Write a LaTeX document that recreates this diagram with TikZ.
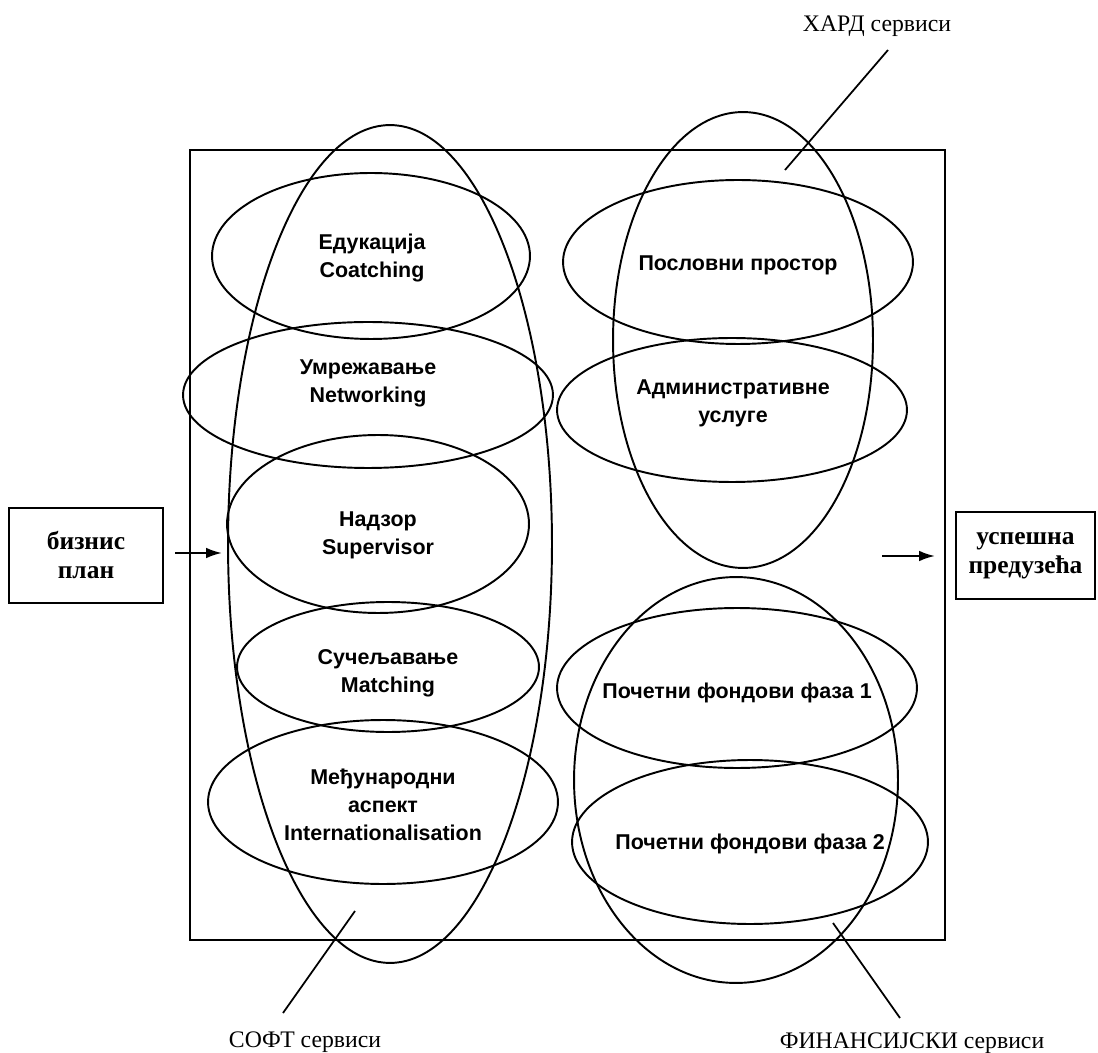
\documentclass[tikz,border=0pt]{standalone}
\usepackage{fontspec}
\setmainfont{Liberation Serif}
\newfontfamily\labelsans{Liberation Sans}
\usetikzlibrary{shapes.geometric,arrows.meta}
\begin{document}
\begin{tikzpicture}[x=0.02cm, y=-0.02cm,
  outline/.style={line width=1.1pt},
  oval/.style={ellipse, draw, outline, inner sep=0pt},
  item/.style={font=\labelsans\bfseries\fontsize{12.2}{16}\selectfont, align=center, inner sep=0pt},
  caption/.style={font=\fontsize{13.5}{16}\selectfont, anchor=base, inner sep=0pt},
  endbox/.style={draw, outline, align=center, font=\bfseries\fontsize{14.5}{16.5}\selectfont},
  pointer/.style={line width=1pt},
  flow/.style={line width=1.2pt, -{Latex[length=9pt,width=6pt]}}]
\useasboundingbox (0,0) rectangle (1098,1053);

% incubator frame
\node[draw, line width=1.3pt, minimum width=15.1cm, minimum height=15.8cm, inner sep=0pt] (frame) at (567.5,545) {};

% service groups
\node[oval, minimum width=6.48cm, minimum height=16.76cm] (soft) at (390,544) {};
\node[oval, minimum width=5.20cm, minimum height=9.12cm] (hard) at (743,340) {};
\node[oval, minimum width=6.48cm, minimum height=8.12cm] (fin) at (736,780) {};

% soft services
\node[oval, minimum width=6.36cm, minimum height=3.32cm] (edu) at (371,256) {};
\node[oval, minimum width=7.40cm, minimum height=2.92cm] (net) at (368,395) {};
\node[oval, minimum width=6.04cm, minimum height=3.56cm] (sup) at (378,524) {};
\node[oval, minimum width=6.04cm, minimum height=2.60cm] (match) at (388,667) {};
\node[oval, minimum width=7.00cm, minimum height=3.28cm] (intl) at (383,802) {};

% hard services
\node[oval, minimum width=7.00cm, minimum height=3.28cm] (space) at (738,262) {};
\node[oval, minimum width=7.00cm, minimum height=2.88cm] (admin) at (732,410) {};

% financial services
\node[oval, minimum width=7.20cm, minimum height=3.20cm] (fund1) at (737,688) {};
\node[oval, minimum width=7.12cm, minimum height=3.28cm] (fund2) at (750,842) {};

% texts
\node[item] (tedu) at (372,258) {Едукација\\Coatching};
\node[item] (tnet) at (368,383) {Умрежавање\\Networking};
\node[item] (tsup) at (378,535) {Надзор\\Supervisor};
\node[item] (tmatch) at (388,673) {Сучељавање\\Matching};
\node[item] (tintl) at (383,805) {Међународни\\аспект\\Internationalisation};
\node[item] (tspace) at (738,265) {Пословни простор};
\node[item] (tadmin) at (733,403) {Административне\\услуге};
\node[item] (tfund1) at (737,693) {Почетни фондови фаза 1};
\node[item] (tfund2) at (750,844) {Почетни фондови фаза 2};

% input and output
\node[endbox, minimum width=3.08cm, minimum height=1.90cm] (plan) at (86,555.5) {бизнис\\план};
\node[endbox, minimum width=2.78cm, minimum height=1.74cm] (firms) at (1025.5,555.5) {успешна\\предузећа};

\coordinate (ins) at (175,553);
\coordinate (ine) at (222,553);
\coordinate (outs) at (882,556);
\coordinate (oute) at (935,556);
\draw[flow] (ins) -- (ine);
\draw[flow] (outs) -- (oute);

% group captions
\node[caption] (lhard) at (877,32) {ХАРД сервиси};
\node[caption] (lsoft) at (305,1047) {СОФТ сервиси};
\node[caption] (lfin) at (912,1048) {ФИНАНСИЈСКИ сервиси};

\coordinate (phard1) at (888,50);
\coordinate (phard2) at (785,170);
\coordinate (psoft1) at (283,1013);
\coordinate (psoft2) at (355,911);
\coordinate (pfin1) at (900,1018);
\coordinate (pfin2) at (833,923);
\draw[pointer] (phard1) -- (phard2);
\draw[pointer] (psoft1) -- (psoft2);
\draw[pointer] (pfin1) -- (pfin2);
\end{tikzpicture}
\end{document}
